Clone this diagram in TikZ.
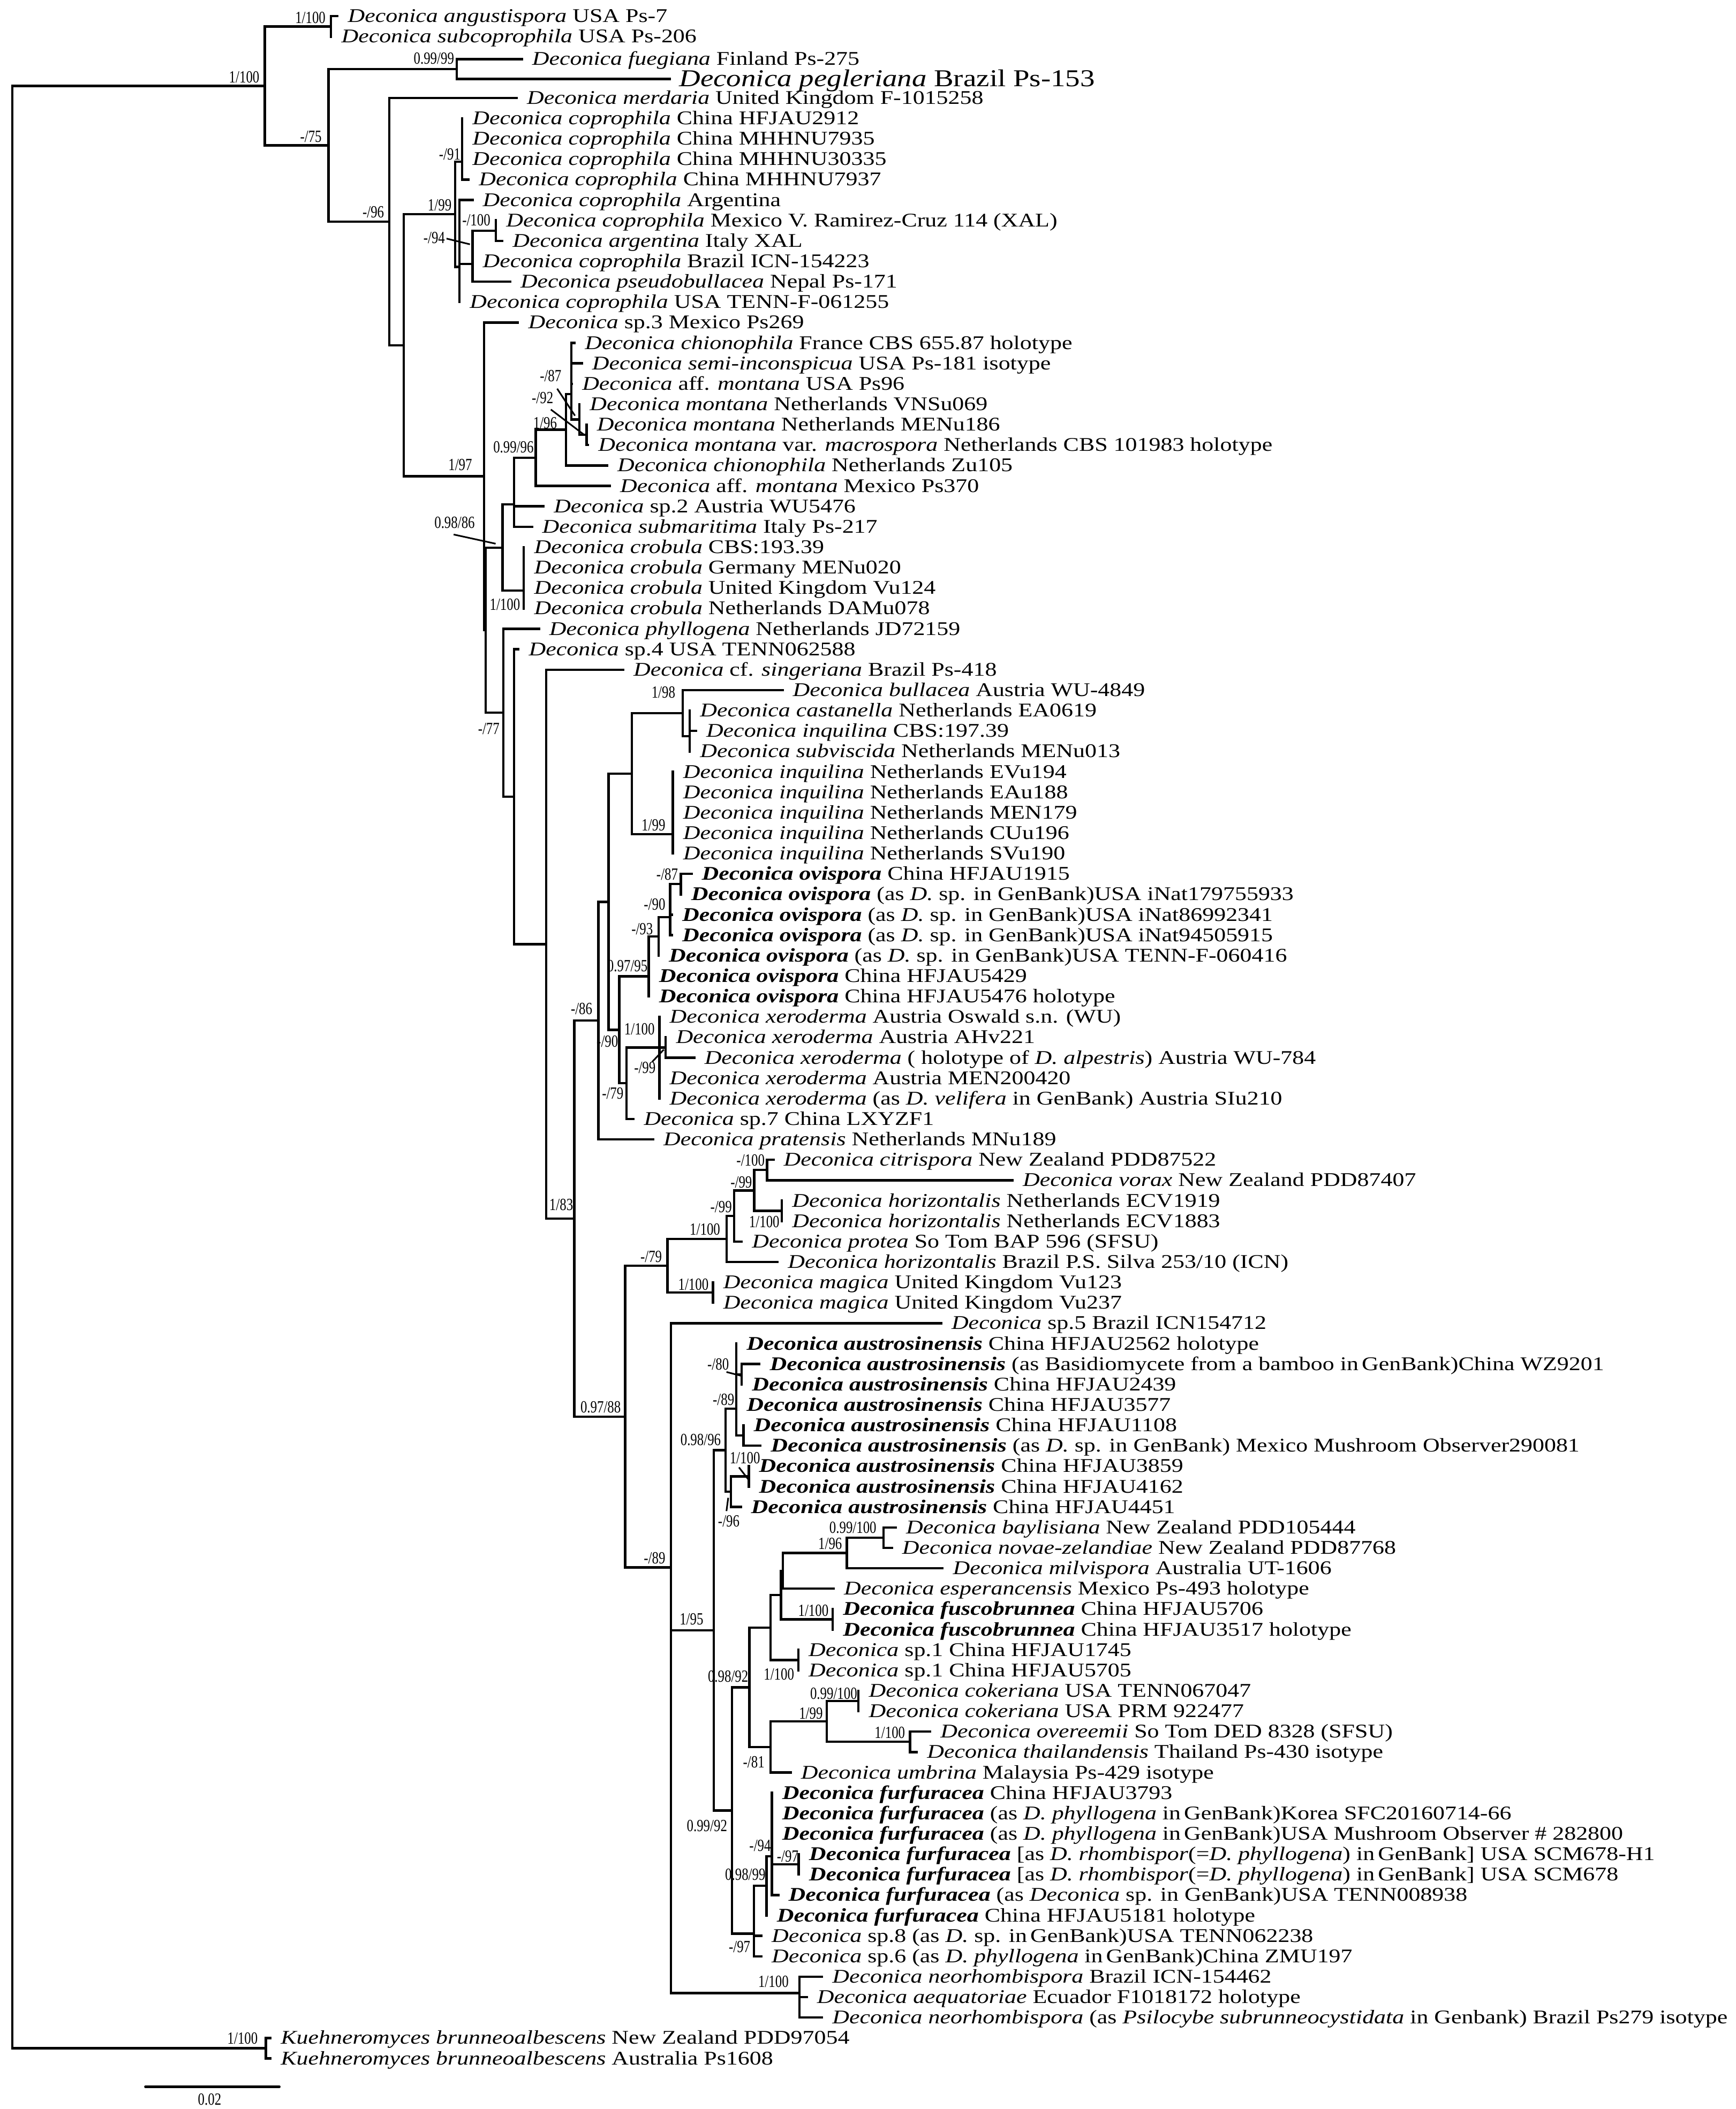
\documentclass[tikz,border=0pt]{standalone}
\usepackage{fontspec}
\setmainfont{Liberation Serif}[FakeStretch=1.215]
\newfontfamily\supfamily{Liberation Serif}[FakeStretch=0.78]
\newcommand\tfont{\fontsize{14.4}{16}\selectfont}
\newcommand\bigtfont{\fontsize{18}{20}\selectfont}
\newcommand\sfnt{\supfamily\fontsize{12.7}{14}\selectfont}
\newcommand\tx[1]{\textit{Deconica #1}}
\newcommand\tb[1]{\textbf{\textit{Deconica #1}}}
\newcommand\Dg{\textit{Deconica}}
\tikzset{
 br/.style={line width=1.75pt, line cap=rect, line join=miter},
 lead/.style={line width=1.2pt},
 lab/.style={anchor=base west, inner sep=0pt, font=\tfont, xshift=7.5pt, yshift=-4.6pt},
 labbig/.style={anchor=base west, inner sep=0pt, font=\bigtfont, xshift=7pt, yshift=-5.6pt},
 sup/.style={anchor=east, inner sep=0pt, font=\sfnt},
}
\newcommand\clade[2]{%
  \foreach \ch [count=\cnt] in {#2}{%
    \ifnum\cnt=1
      \draw[br] (#1 |- \ch) -- (\ch);
    \else
      \draw[br] (#1 |- \prevch) -- (#1 |- \ch) -- (\ch);
    \fi
    \global\let\prevch\ch
  }%
}
\newcommand\tip[4]{\coordinate (#1) at (#2,#3); \node[lab] (L#1) at (#1) {#4};}
\begin{document}
\begin{tikzpicture}[x=1pt, y=-15.19pt]
\useasboundingbox (0,-5.793) rectangle (1291.1,97.48);
% ---------- internal nodes ----------
\coordinate (R) at (9.2,46);
\coordinate (Nin) at (197,-1.59);
\coordinate (Nas) at (246.2,-4.5);
\coordinate (N75) at (244.3,1.32);
\coordinate (Nfp) at (339.8,-2.415);
\coordinate (N96) at (289.6,5.06);
\coordinate (NB) at (300.2,11.12);
\coordinate (N99) at (338.5,4.70);
\coordinate (N91) at (343.7,2.125);
\coordinate (Nd) at (341.7,7.28);
\coordinate (N94) at (351.4,7.125);
\coordinate (N100) at (368.8,5.5);
\coordinate (N97) at (360,17.53);
\coordinate (Nz) at (361.3,25.07);
\coordinate (N86) at (373.7,21.02);
\coordinate (P) at (382.3,18.91);
\coordinate (Q) at (398.4,16.625);
\coordinate (S) at (421,15.25);
\coordinate (T) at (425,13.5);
\coordinate (U) at (430.9,14.75);
\coordinate (V) at (436.3,15.5);
\coordinate (C) at (389.6,23.125);
\coordinate (N77) at (374.3,29.11);
\coordinate (Na) at (382.3,33.22);
\coordinate (Nb) at (406.2,40.44);
\coordinate (N83) at (427.1,53.88);
\coordinate (N86b) at (445,44.18);
\coordinate (Nc) at (452.6,38.37);
\coordinate (Z) at (469.9,32.09);
\coordinate (X) at (507.7,29.125);
\coordinate (W) at (513,30.25);
\coordinate (Y) at (500.4,35.06);
\coordinate (N90) at (460.6,44.64);
\coordinate (N9795) at (482.5,42.02);
\coordinate (N93) at (489.8,40.06);
\coordinate (N90b) at (498.4,39.125);
\coordinate (N87) at (506.4,37.5);
\coordinate (N79) at (465.9,47.25);
\coordinate (N100x) at (490.4,45.5);
\coordinate (N99x) at (495.1,45.5);
\coordinate (N9788) at (465,63.58);
\coordinate (N79b) at (496.4,56.19);
\coordinate (N1100c) at (540.5,54.875);
\coordinate (N99c) at (546,53.75);
\coordinate (N99d) at (561,52.5);
\coordinate (N100d) at (570.5,51.5);
\coordinate (Nhz) at (581.5,53.5);
\coordinate (Nmag) at (530.3,57.5);
\coordinate (N89) at (499.1,70.96);
\coordinate (Nin2) at (499.1,82.92);
\coordinate (N95) at (530.8,74.04);
\coordinate (N9896) at (539.6,65.22);
\coordinate (N89b) at (547.6,63.19);
\coordinate (N80) at (551.6,61.5);
\coordinate (N65) at (552.9,64.5);
\coordinate (N96c) at (543.6,67.25);
\coordinate (N1100b) at (556.9,66.5);
\coordinate (N9992) at (544.5,82.86);
\coordinate (N9892) at (557.4,76.83);
\coordinate (Nx1) at (573,73.91);
\coordinate (Nx2) at (580.9,72.31);
\coordinate (Nx2a) at (582.3,71.125);
\coordinate (N196) at (629.9,70.25);
\coordinate (N09100) at (657,69.5);
\coordinate (Nfus) at (619.3,73.5);
\coordinate (Nsp1) at (593.7,75.5);
\coordinate (N81) at (573,79.75);
\coordinate (N199) at (615,78.5);
\coordinate (Ncok) at (638.5,77.5);
\coordinate (Nov) at (676.9,79.5);
\coordinate (N97b) at (560.8,88.89);
\coordinate (N9899) at (570.1,86.55);
\coordinate (N94f) at (574.1,85.1);
\coordinate (N97c) at (594,85.5);
\coordinate (Nnr) at (594.7,91.8);
\coordinate (NK) at (197.8,94.5);
% ---------- tips and taxon labels ----------
\tip{tm5}{251.0}{-5}{\tx{angustispora} USA Ps-7}
\tip{tm4}{246.2}{-4}{\tx{subcoprophila} USA Ps-206}
\tip{tm3}{388.1}{-2.9}{\tx{fuegiana} Finland Ps-275}
\coordinate (tm2) at (498,-1.93); \node[labbig] (Ltm2) at (tm2) {\tx{pegleriana} Brazil Ps-153};
\tip{tm1}{384.2}{-1}{\tx{merdaria} United Kingdom F-1015258}
\tip{t0}{343.7}{0}{\tx{coprophila} China HFJAU2912}
\tip{t1}{343.7}{1}{\tx{coprophila} China MHHNU7935}
\tip{t2}{343.7}{2}{\tx{coprophila} China MHHNU30335}
\tip{t3}{348.5}{3}{\tx{coprophila} China MHHNU7937}
\tip{t4}{351.4}{4}{\tx{coprophila} Argentina}
\tip{t5}{368.8}{5}{\tx{coprophila} Mexico V. Ramirez-Cruz 114 (XAL)}
\tip{t6}{373.6}{6}{\tx{argentina} Italy XAL}
\tip{t7}{351.4}{7}{\tx{coprophila} Brazil ICN-154223}
\tip{t8}{379.4}{8}{\tx{pseudobullacea} Nepal Ps-171}
\tip{t9}{341.7}{9}{\tx{coprophila} USA TENN-F-061255}
\tip{t10}{385.2}{10}{\Dg{} sp.3 Mexico Ps269}
\tip{t11}{427.3}{11}{\tx{chionophila} France CBS 655.87 holotype}
\tip{t12}{432.7}{12}{\tx{semi-inconspicua} USA Ps-181 isotype}
\tip{t13}{425.3}{13}{\Dg{} aff. \textit{montana} USA Ps96}
\tip{t14}{430.9}{14}{\tx{montana} Netherlands VNSu069}
\tip{t15}{436.3}{15}{\tx{montana} Netherlands MENu186}
\tip{t16}{437.3}{16}{\tx{montana} var. \textit{macrospora} Netherlands CBS 101983 holotype}
\tip{t17}{451.5}{17}{\tx{chionophila} Netherlands Zu105}
\tip{t18}{453.5}{18}{\Dg{} aff. \textit{montana} Mexico Ps370}
\tip{t19}{404.2}{19}{\Dg{} sp.2 Austria WU5476}
\tip{t20}{395.6}{20}{\tx{submaritima} Italy Ps-217}
\tip{t21}{389.6}{21}{\tx{crobula} CBS:193.39}
\tip{t22}{389.6}{22}{\tx{crobula} Germany MENu020}
\tip{t23}{389.6}{23}{\tx{crobula} United Kingdom Vu124}
\tip{t24}{389.6}{24}{\tx{crobula} Netherlands DAMu078}
\tip{t25}{400.9}{25}{\tx{phyllogena} Netherlands JD72159}
\tip{t26}{385.6}{26}{\Dg{} sp.4 USA TENN062588}
\tip{t27}{463.5}{27}{\Dg{} cf. \textit{singeriana} Brazil Ps-418}
\tip{t28}{582}{28}{\tx{bullacea} Austria WU-4849}
\tip{t29}{513}{29}{\tx{castanella} Netherlands EA0619}
\tip{t30}{517.6}{30}{\tx{inquilina} CBS:197.39}
\tip{t31}{513}{31}{\tx{subviscida} Netherlands MENu013}
\tip{t32}{500.4}{32}{\tx{inquilina} Netherlands EVu194}
\tip{t33}{500.4}{33}{\tx{inquilina} Netherlands EAu188}
\tip{t34}{500.4}{34}{\tx{inquilina} Netherlands MEN179}
\tip{t35}{500.4}{35}{\tx{inquilina} Netherlands CUu196}
\tip{t36}{500.4}{36}{\tx{inquilina} Netherlands SVu190}
\tip{t37}{514.3}{37}{\tb{ovispora} China HFJAU1915}
\tip{t38}{506.4}{38}{\tb{ovispora} (as \textit{D.} sp. in GenBank)USA iNat179755933}
\tip{t39}{499.7}{39}{\tb{ovispora} (as \textit{D.} sp. in GenBank)USA iNat86992341}
\tip{t40}{499.7}{40}{\tb{ovispora} (as \textit{D.} sp. in GenBank)USA iNat94505915}
\tip{t41}{489.8}{41}{\tb{ovispora} (as \textit{D.} sp. in GenBank)USA TENN-F-060416}
\tip{t42}{482.5}{42}{\tb{ovispora} China HFJAU5429}
\tip{t43}{482.5}{43}{\tb{ovispora} China HFJAU5476 holotype}
\tip{t44}{490.4}{44}{\tx{xeroderma} Austria Oswald s.n. (WU)}
\tip{t45}{495.1}{45}{\tx{xeroderma} Austria AHv221}
\tip{t46}{516.3}{46}{\tx{xeroderma} ( holotype of \textit{D. alpestris}) Austria WU-784}
\tip{t47}{490.4}{47}{\tx{xeroderma} Austria MEN200420}
\tip{t48}{490.4}{48}{\tx{xeroderma} (as \textit{D. velifera} in GenBank) Austria SIu210}
\tip{t49}{471.2}{49}{\Dg{} sp.7 China LXYZF1}
\tip{t50}{485.8}{50}{\tx{pratensis} Netherlands MNu189}
\tip{t51}{575.2}{51}{\tx{citrispora} New Zealand PDD87522}
\tip{t52}{753}{52}{\tx{vorax} New Zealand PDD87407}
\tip{t53}{581.5}{53}{\tx{horizontalis} Netherlands ECV1919}
\tip{t54}{581.5}{54}{\tx{horizontalis} Netherlands ECV1883}
\tip{t55}{551.6}{55}{\tx{protea} So Tom BAP 596 (SFSU)}
\tip{t56}{578.3}{56}{\tx{horizontalis} Brazil P.S. Silva 253/10 (ICN)}
\tip{t57}{530.3}{57}{\tx{magica} United Kingdom Vu123}
\tip{t58}{530.3}{58}{\tx{magica} United Kingdom Vu237}
\tip{t59}{700}{59}{\Dg{} sp.5 Brazil ICN154712}
\tip{t60}{547.6}{60}{\tb{austrosinensis} China HFJAU2562 holotype}
\tip{t61}{564.8}{61}{\tb{austrosinensis} (as Basidiomycete from a bamboo in\,GenBank)China WZ9201}
\tip{t62}{551.6}{62}{\tb{austrosinensis} China HFJAU2439}
\tip{t63}{547.6}{63}{\tb{austrosinensis} China HFJAU3577}
\tip{t64}{552.9}{64}{\tb{austrosinensis} China HFJAU1108}
\tip{t65}{565.5}{65}{\tb{austrosinensis} (as \textit{D.} sp. in GenBank) Mexico Mushroom Observer290081}
\tip{t66}{556.9}{66}{\tb{austrosinensis} China HFJAU3859}
\tip{t67}{556.9}{67}{\tb{austrosinensis} China HFJAU4162}
\tip{t68}{550.9}{68}{\tb{austrosinensis} China HFJAU4451}
\tip{t69}{666.2}{69}{\tx{baylisiana} New Zealand PDD105444}
\tip{t70}{663.3}{70}{\tx{novae-zelandiae} New Zealand PDD87768}
\tip{t71}{701}{71}{\tx{milvispora} Australia UT-1606}
\tip{t72}{620}{72}{\tx{esperancensis} Mexico Ps-493 holotype}
\tip{t73}{619.3}{73}{\tb{fuscobrunnea} China HFJAU5706}
\tip{t74}{619.3}{74}{\tb{fuscobrunnea} China HFJAU3517 holotype}
\tip{t75}{593.7}{75}{\Dg{} sp.1 China HFJAU1745}
\tip{t76}{593.7}{76}{\Dg{} sp.1 China HFJAU5705}
\tip{t77}{638.5}{77}{\tx{cokeriana} USA TENN067047}
\tip{t78}{638.5}{78}{\tx{cokeriana} USA PRM 922477}
\tip{t79}{691.8}{79}{\tx{overeemii} So Tom DED 8328 (SFSU)}
\tip{t80}{681.8}{80}{\tx{thailandensis} Thailand Ps-430 isotype}
\tip{t81}{588}{81}{\tx{umbrina} Malaysia Ps-429 isotype}
\tip{t82}{574.1}{82}{\tb{furfuracea} China HFJAU3793}
\tip{t83}{574.1}{83}{\tb{furfuracea} (as \textit{D. phyllogena} in\,GenBank)Korea SFC20160714-66}
\tip{t84}{574.1}{84}{\tb{furfuracea} (as \textit{D. phyllogena} in\,GenBank)USA Mushroom Observer \# 282800}
\tip{t85}{594}{85}{\tb{furfuracea} [as \textit{D. rhombispor}(=\textit{D. phyllogena}) in\,GenBank] USA SCM678-H1}
\tip{t86}{594}{86}{\tb{furfuracea} [as \textit{D. rhombispor}(=\textit{D. phyllogena}) in\,GenBank] USA SCM678}
\tip{t87}{578.8}{87}{\tb{furfuracea} (as \Dg{} sp. in GenBank)USA TENN008938}
\tip{t88}{570.1}{88}{\tb{furfuracea} China HFJAU5181 holotype}
\tip{t89}{566.2}{89}{\Dg{} sp.8 (as \textit{D.} sp. in\,GenBank)USA TENN062238}
\tip{t90}{566.2}{90}{\Dg{} sp.6 (as \textit{D. phyllogena} in\,GenBank)China ZMU197}
\tip{t91}{611.3}{91}{\tx{neorhombispora} Brazil ICN-154462}
\tip{t92}{600}{92}{\tx{aequatoriae} Ecuador F1018172 holotype}
\tip{t93}{611.3}{93}{\tx{neorhombispora} (as \textit{Psilocybe subrunneocystidata} in Genbank) Brazil Ps279 isotype}
\tip{t94}{201.1}{94}{\textit{Kuehneromyces brunneoalbescens} New Zealand PDD97054}
\tip{t95}{201.1}{95}{\textit{Kuehneromyces brunneoalbescens} Australia Ps1608}
% ---------- branches ----------
\clade{R}{Nin,NK}
\clade{Nin}{Nas,N75}
\clade{Nas}{tm5,tm4}
\clade{N75}{Nfp,N96}
\clade{Nfp}{tm3,tm2}
\clade{N96}{tm1,NB}
\clade{NB}{N99,N97}
\clade{N99}{N91,Nd}
\clade{N91}{t0,t1,t2,t3}
\clade{Nd}{t4,N94,t9}
\clade{N94}{N100,t7,t8}
\clade{N100}{t5,t6}
\clade{N97}{t10,Nz}
\clade{Nz}{N86,N77}
\clade{N86}{P,C}
\clade{P}{Q,t19,t20}
\clade{Q}{S,t18}
\clade{S}{T,t17}
\clade{T}{t11,t12,t13,U}
\clade{U}{t14,V}
\clade{V}{t15,t16}
\clade{C}{t21,t22,t23,t24}
\clade{N77}{t25,Na}
\clade{Na}{t26,Nb}
\clade{Nb}{t27,N83}
\clade{N83}{N86b,N9788}
\clade{N86b}{Nc,t50}
\clade{Nc}{Z,N90}
\clade{Z}{X,Y}
\clade{X}{t28,W}
\clade{W}{t29,t30,t31}
\clade{Y}{t32,t33,t34,t35,t36}
\clade{N90}{N9795,N79}
\clade{N9795}{N93,t42,t43}
\clade{N93}{N90b,t41}
\clade{N90b}{N87,t39,t40}
\clade{N87}{t37,t38}
\clade{N79}{N100x,t49}
\clade{N100x}{t44,N99x,t47,t48}
\clade{N99x}{t45,t46}
\clade{N9788}{N79b,N89}
\clade{N79b}{N1100c,Nmag}
\clade{N1100c}{N99c,t56}
\clade{N99c}{N99d,t55}
\clade{N99d}{N100d,Nhz}
\clade{N100d}{t51,t52}
\clade{Nhz}{t53,t54}
\clade{Nmag}{t57,t58}
\clade{N89}{t59,Nin2}
\clade{Nin2}{N95,Nnr}
\clade{N95}{N9896,N9992}
\clade{N9896}{N89b,N96c}
\clade{N89b}{t60,N80,t63,N65}
\clade{N80}{t61,t62}
\clade{N65}{t64,t65}
\clade{N96c}{N1100b,t68}
\clade{N1100b}{t66,t67}
\clade{N9992}{N9892,N97b}
\clade{N9892}{Nx1,N81}
\clade{Nx1}{Nx2,Nsp1}
\clade{Nx2}{Nx2a,Nfus}
\clade{Nx2a}{N196,t72}
\clade{N196}{N09100,t71}
\clade{N09100}{t69,t70}
\clade{Nfus}{t73,t74}
\clade{Nsp1}{t75,t76}
\clade{N81}{N199,t81}
\clade{N199}{Ncok,Nov}
\clade{Ncok}{t77,t78}
\clade{Nov}{t79,t80}
\clade{N97b}{N9899,t89,t90}
\clade{N9899}{N94f,t88}
\clade{N94f}{t82,t83,t84,N97c,t87}
\clade{N97c}{t85,t86}
\clade{Nnr}{t91,t92,t93}
\clade{NK}{t94,t95}
% ---------- support values ----------
\node[sup] (s1) at (242.3,-4.92) {1/100};
\node[sup] (s2) at (193.1,-2.01) {1/100};
\node[sup] (s3) at (337.9,-2.94) {0.99/99};
\node[sup] (s4) at (239.4,0.89) {-/75};
\node[sup] (s5) at (285.8,4.6) {-/96};
\node[sup] (s6) at (336,4.26) {1/99};
\node[sup] (s7) at (342.7,1.76) {-/91};
\node[sup] (s8) at (364.9,4.99) {-/100};
\node[sup] (s9) at (331.1,5.84) {-/94};
\node[sup] (s10) at (351.3,16.97) {1/97};
\node[sup] (s11) at (353.3,19.8) {0.98/86};
\node[sup] (s12) at (397.1,16.1) {0.99/96};
\node[sup] (s13) at (414.4,14.93) {1/96};
\node[sup] (s14) at (417.7,12.6) {-/87};
\node[sup] (s15) at (411.7,13.7) {-/92};
\node[sup] (s16) at (387,23.8) {1/100};
\node[sup] (s17) at (371.7,29.88) {-/77};
\node[sup] (s18) at (426.4,53.2) {1/83};
\node[sup] (s19) at (502.4,28.1) {1/98};
\node[sup] (s20) at (495,34.6) {1/99};
\node[sup] (s21) at (440.7,43.6) {-/86};
\node[sup] (s22) at (481.8,41.5) {0.97/95};
\node[sup] (s23) at (459.9,45.2) {-/90};
\node[sup] (s24) at (463.9,47.75) {-/79};
\node[sup] (s25) at (485.8,39.7) {-/93};
\node[sup] (s26) at (495,38.48) {-/90};
\node[sup] (s27) at (504.4,37.03) {-/87};
\node[sup] (s28) at (487.1,44.6) {1/100};
\node[sup] (s29) at (487.8,46.5) {-/99};
\node[sup] (s30) at (461.9,63.1) {0.97/88};
\node[sup] (s31) at (495,70.5) {-/89};
\node[sup] (s32) at (492.5,55.75) {-/79};
\node[sup] (s33) at (535.8,54.4) {1/100};
\node[sup] (s34) at (544.5,53.3) {-/99};
\node[sup] (s35) at (559.5,52.1) {-/99};
\node[sup] (s36) at (568.9,51.03) {-/100};
\node[sup] (s37) at (579.9,54.05) {1/100};
\node[sup] (s38) at (527.2,57.1) {1/100};
\node[sup] (s39) at (536.3,64.7) {0.98/96};
\node[sup] (s40) at (546.3,62.75) {-/89};
\node[sup] (s41) at (542.3,61.0) {-/80};
\node[sup] (s42) at (565.5,65.6) {1/100};
\node[sup] (s43) at (550.2,68.7) {-/96};
\node[sup] (s44) at (523.3,73.5) {1/95};
\node[sup] (s45) at (556.7,76.3) {0.98/92};
\node[sup] (s46) at (626.4,69.8) {1/96};
\node[sup] (s47) at (652,69.0) {0.99/100};
\node[sup] (s48) at (616.4,73.07) {1/100};
\node[sup] (s49) at (590.8,76.2) {1/100};
\node[sup] (s50) at (612.1,78.1) {1/99};
\node[sup] (s51) at (637.7,77.13) {0.99/100};
\node[sup] (s52) at (673.3,79.05) {1/100};
\node[sup] (s53) at (568.8,80.5) {-/81};
\node[sup] (s54) at (541,83.6) {0.99/92};
\node[sup] (s55) at (569.5,86.0) {0.98/99};
\node[sup] (s56) at (573.5,84.58) {-/94};
\node[sup] (s57) at (594,85.1) {-/97};
\node[sup] (s58) at (558.2,89.55) {-/97};
\node[sup] (s59) at (586.7,91.23) {1/100};
\node[sup] (s60) at (191.9,94.03) {1/100};
% ---------- leader lines ----------
\coordinate (a1) at (332.1,5.89);  \coordinate (b1) at (349.5,6.17);
\coordinate (a2) at (337.4,20.38); \coordinate (b2) at (368.6,20.83);
\coordinate (a3) at (414.4,13.24); \coordinate (b3) at (427.6,14.56);
\coordinate (a4) at (409.7,14.26); \coordinate (b4) at (434.9,15.52);
\coordinate (a5) at (485.1,46.2);  \coordinate (b5) at (493.7,45.6);
\coordinate (a6) at (540.3,61.39); \coordinate (b6) at (550.9,61.57);
\coordinate (a7) at (549.6,66.06); \coordinate (b7) at (556.9,66.68);
\coordinate (a8) at (541.6,67.55); \coordinate (b8) at (540.3,68.2);
\foreach \i in {1,...,8} {\draw[lead] (a\i) -- (b\i);}
% ---------- scale bar ----------
\coordinate (sbA) at (108.1,96.39);
\coordinate (sbB) at (207.8,96.39);
\draw[line width=1.75pt, line cap=round] (sbA) -- (sbB);
\node[sup, anchor=center] (sbL) at (155.9,97.0) {0.02};
\end{tikzpicture}
\end{document}
